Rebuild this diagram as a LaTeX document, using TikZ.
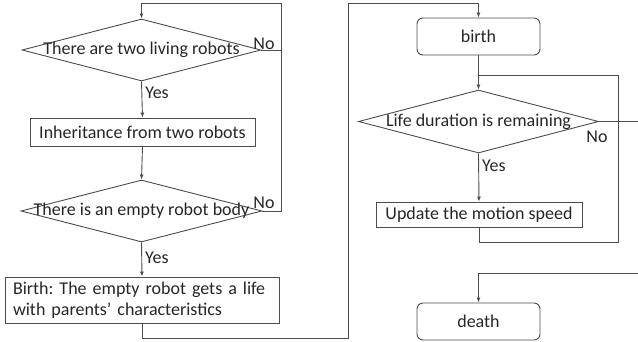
\documentclass[tikz,border=0pt]{standalone}
\usepackage{fontspec}
\setmainfont{Carlito}
\usetikzlibrary{shapes.geometric,arrows.meta}
\frenchspacing

\begin{document}
\begin{tikzpicture}[x=1pt,y=-1pt,
  every node/.style={font=\fontsize{18}{21}\selectfont, text=black!85},
  line/.style={draw=black!70, line width=0.9pt},
  >={Latex[length=5pt,width=4pt]},
  decision/.style={line, shape=diamond, inner sep=0pt},
  proc/.style={line, rectangle, inner sep=0pt},
  term/.style={line, rectangle, rounded corners=6pt, inner sep=0pt},
  lbl/.style={inner sep=1pt}]
\useasboundingbox (0,0) rectangle (638,341);

\node[decision, minimum width=239, minimum height=62,
  label=center:{There are two living robots}] (twolive) at (141.5,50) {};
\node[proc, minimum width=225, minimum height=28] (inherit) at (142.5,132) {Inheritance from two robots};
\node[decision, minimum width=241, minimum height=62,
  label=center:{There is an empty robot body}] (emptybody) at (141.5,211) {};
\node[proc, minimum width=274, minimum height=46, text width=258, inner xsep=8pt, align=left]
  (newlife) at (142,300) {Birth: The empty robot gets a life\\with parents' characteristics};

\node[term, minimum width=123, minimum height=37] (birth) at (478.5,36.5) {birth};
\node[decision, minimum width=240, minimum height=63,
  label=center:{Life duration is remaining}] (remain) at (478.5,121.5) {};
\node[proc, minimum width=206, minimum height=25] (speed) at (479,214.5) {Update the motion speed};
\node[term, minimum width=123, minimum height=37] (death) at (478.5,321.5) {death};

\coordinate (topl) at (281,3);
\coordinate (lowl) at (348,338);
\coordinate (topm) at (348,3);
\coordinate (loopb) at (618,242);
\coordinate (loopt) at (618,75);
\coordinate (outr) at (638,120);
\coordinate (dtop) at (638,273);

\draw[line,->] (twolive.south) -- node[lbl, pos=0.32, anchor=west, xshift=2pt] {Yes} (inherit.north);
\draw[line,->] (inherit.south) -- (emptybody.north);
\draw[line,->] (emptybody.south) -- node[lbl, pos=0.45, anchor=west, xshift=2pt] {Yes} (newlife.north);
\draw[line] (twolive.east) -- node[lbl, pos=1, anchor=base east, xshift=-5pt, yshift=1pt] {No} (twolive.east -| topl);
\draw[line,->] (emptybody.east) -- node[lbl, pos=1, anchor=base east, xshift=-5pt, yshift=3pt] {No} (emptybody.east -| topl)
  -- (topl) -- (topl -| twolive) -- (twolive.north);

\draw[line,->] (newlife.south) -- (newlife.south |- lowl) -- (lowl) -- (topm) -- (topm -| birth) -- (birth.north);
\draw[line,->] (birth.south) -- (remain.north);
\draw[line,->] (remain.south) -- node[lbl, pos=0.25, anchor=west, xshift=2pt] {Yes} (speed.north);
\draw[line] (speed.south) |- (loopb) -- (loopt) -- (loopt -| birth);
\draw[line] (remain.east) -- node[lbl, pos=0, anchor=north, xshift=-2pt, yshift=-8pt] {No} (remain.east -| outr);
\draw[line,->] (dtop) -| (death.north);
\end{tikzpicture}
\end{document}
